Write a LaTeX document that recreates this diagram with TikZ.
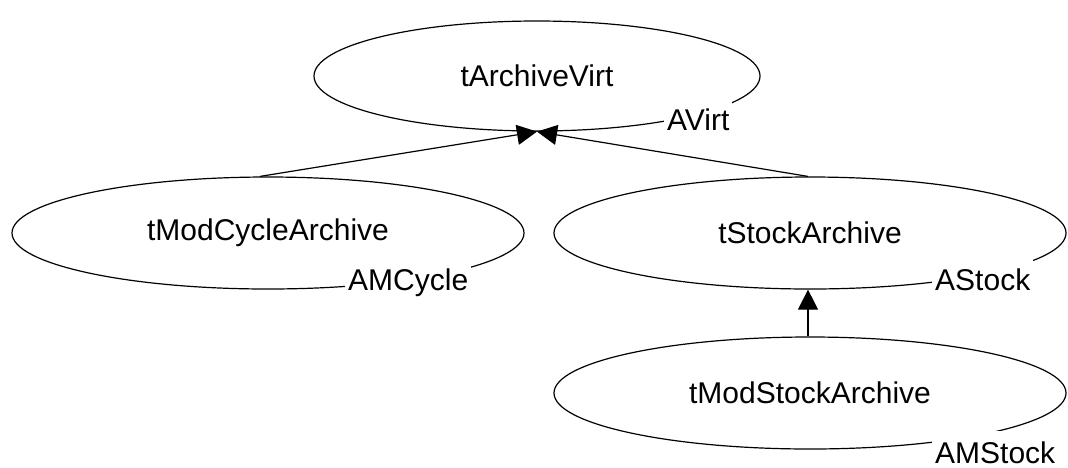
\documentclass[tikz,border=0pt]{standalone}
\usepackage{fontspec}
\setmainfont{Liberation Sans}
\usetikzlibrary{shapes.geometric,arrows.meta}
\begin{document}
\begin{tikzpicture}[x=1pt, y=-1pt,
  cls/.style={ellipse, draw, line width=1.2pt, minimum width=512pt, minimum height=112pt, font=\fontsize{30}{36}\selectfont},
  role/.style={anchor=base west, fill=white, inner xsep=3pt, inner ysep=1pt, text height=31pt, font=\fontsize{30}{36}\selectfont},
  inh/.style={-{Triangle[length=20pt,width=20pt]}, line width=1.2pt}]
\useasboundingbox (0,0) rectangle (1068,467);
\node[cls, minimum width=446pt, minimum height=110pt] (virt) at (537,76){tArchiveVirt};
\node[role] (virtrole) at (664,130){AVirt};
\node[cls] (cycle) at (268,233){tModCycleArchive};
\node[role] (cyclerole) at (345,290){AMCycle};
\node[cls] (stock) at (810,233){tStockArchive};
\node[role] (stockrole) at (932,290){AStock};
\node[cls] (modstock) at (810,393){tModStockArchive};
\node[role] (modstockrole) at (932,463){AMStock};
\draw[inh] ([xshift=-8pt]cycle.north) -- (virt.south);
\draw[inh] ([xshift=-2pt]stock.north) -- (virt.south);
\draw[inh] ([xshift=-2pt]modstock.north) -- ([xshift=-2pt]stock.south);
\end{tikzpicture}
\end{document}
